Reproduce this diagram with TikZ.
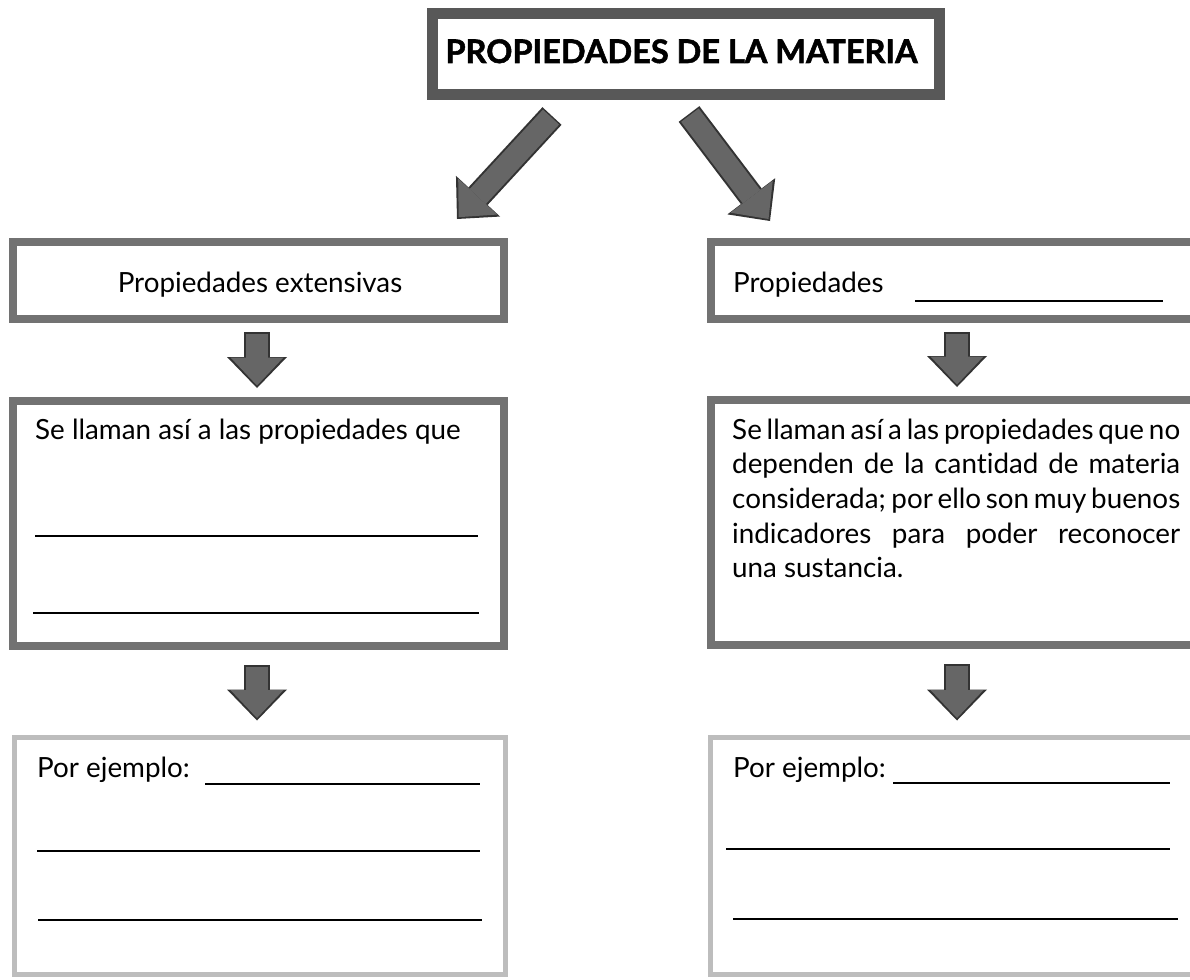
\documentclass[tikz,border=0pt]{standalone}
\usepackage{fontspec}
\setmainfont{Lato}[Ligatures=NoCommon]
\newfontfamily\titlefont{Lato}[FakeBold=1.6]
\usetikzlibrary{arrows.meta,calc}
\definecolor{titleborder}{HTML}{585858}
\definecolor{midborder}{HTML}{727272}
\definecolor{lightborder}{HTML}{BDBDBD}
\definecolor{arrowfill}{HTML}{666666}
\definecolor{arrowedge}{HTML}{333333}
\tikzset{
  titlebox/.style={draw=titleborder, line width=11pt, fill=white, minimum width=507pt, minimum height=81pt, inner sep=0pt},
  midbox/.style={draw=midborder, line width=8pt, fill=white, inner sep=0pt},
  lowbox/.style={draw=lightborder, line width=5pt, fill=white, inner sep=0pt},
  bodytext/.style={font=\fontsize{27.8}{34.7}\selectfont, inner sep=0pt, anchor=base west},
  blank/.style={line width=1.3pt, draw=black},
  fatout/.style={line width=26pt, draw=arrowedge, -{Triangle[width=60pt,length=31pt,line width=0pt]}},
  fatin/.style={line width=22pt, draw=arrowfill, -{Triangle[width=53pt,length=28pt,line width=0pt]}},
}
\newcommand\fatarrow[6]{%
  \draw[fatout, shorten <=#3, shorten >=#4] #1 -- #2;
  \draw[fatin, shorten <=#5, shorten >=#6] #1 -- #2;
}
\newcommand\jline[1]{{\spaceskip=0.1em plus 3em minus 0.05em\makebox[448pt][s]{#1}}}
\begin{document}
\begin{tikzpicture}[x=1pt,y=-1pt]
\useasboundingbox (0,0) rectangle (1190,979);
\clip (0,0) rectangle (1190,979);
\fill[white] (0,0) rectangle (1190,979);

% title
\node[titlebox] (title) at (686,54) {};
\node[anchor=base, inner sep=0pt] (titletext) at (681.5,63) {\titlefont\bfseries\fontsize{32.5}{38}\selectfont PROPIEDADES DE LA MATERIA};

% left column boxes
\node[midbox, minimum width=491pt, minimum height=77pt] (lb1) at (258.5,280.5) {};
\node[midbox, minimum width=491pt, minimum height=245pt] (lb2) at (258.5,523.5) {};
\node[lowbox, minimum width=491pt, minimum height=237pt] (lb3) at (260,856) {};

% right column boxes
\node[midbox, minimum width=539pt, minimum height=77pt] (rb1) at (980.5,280.5) {};
\node[midbox, minimum width=539pt, minimum height=245pt] (rb2) at (980.5,522.5) {};
\node[lowbox, minimum width=539.5pt, minimum height=237pt] (rb3) at (980.25,856) {};

% texts
\node[bodytext, anchor=base] (lt1) at (260,292) {Propiedades extensivas};
\node[bodytext] (rt1) at (733,292) {Propiedades};
\draw[blank] (915,301) -- (1163,301);

\node[bodytext] (lt2) at (35,439) {Se llaman así a las propiedades que};
\draw[blank] (35,536) -- (478,536);
\draw[blank] (33,613) -- (479,613);

\node[bodytext] (rt2) at (732,439) {\parbox[t]{448pt}{\fontsize{27.8}{34.7}\selectfont
\jline{Se llaman así a las propiedades que no}\\
\jline{dependen de la cantidad de materia}\\
\jline{considerada; por ello son muy buenos}\\
\jline{indicadores para poder reconocer}\\
una sustancia.}};

\node[bodytext] (lt3) at (37,777) {Por ejemplo:};
\draw[blank] (205,784) -- (480,784);
\draw[blank] (37,851) -- (480,851);
\draw[blank] (38,920) -- (482,920);

\node[bodytext] (rt3) at (733,777) {Por ejemplo:};
\draw[blank] (893,783) -- (1170,783);
\draw[blank] (726,849) -- (1170,849);
\draw[blank] (733,919) -- (1178,919);

% arrows
\coordinate (lx) at (257,0);
\coordinate (rx) at (957,0);
\coordinate (dl1) at (552,116);
\coordinate (dl2) at (457,219);
\coordinate (dr1) at (689,114);
\coordinate (dr2) at (770,221);

\fatarrow{(dl1)}{(dl2)}{0pt}{0pt}{1.5pt}{2.5pt}
\fatarrow{(dr1)}{(dr2)}{0pt}{0pt}{1.5pt}{2.5pt}
\fatarrow{(lx |- lb1.south)}{(lx |- lb2.north)}{9pt}{9pt}{10.5pt}{11.5pt}
\fatarrow{(lx |- lb2.south)}{(lx |- lb3.north)}{15pt}{14.5pt}{16.5pt}{17pt}
\fatarrow{(rx |- rb1.south)}{(rx |- rb2.north)}{9pt}{9pt}{10.5pt}{11.5pt}
\fatarrow{(rx |- rb2.south)}{(rx |- rb3.north)}{15pt}{14.5pt}{16.5pt}{17pt}
\end{tikzpicture}
\end{document}
